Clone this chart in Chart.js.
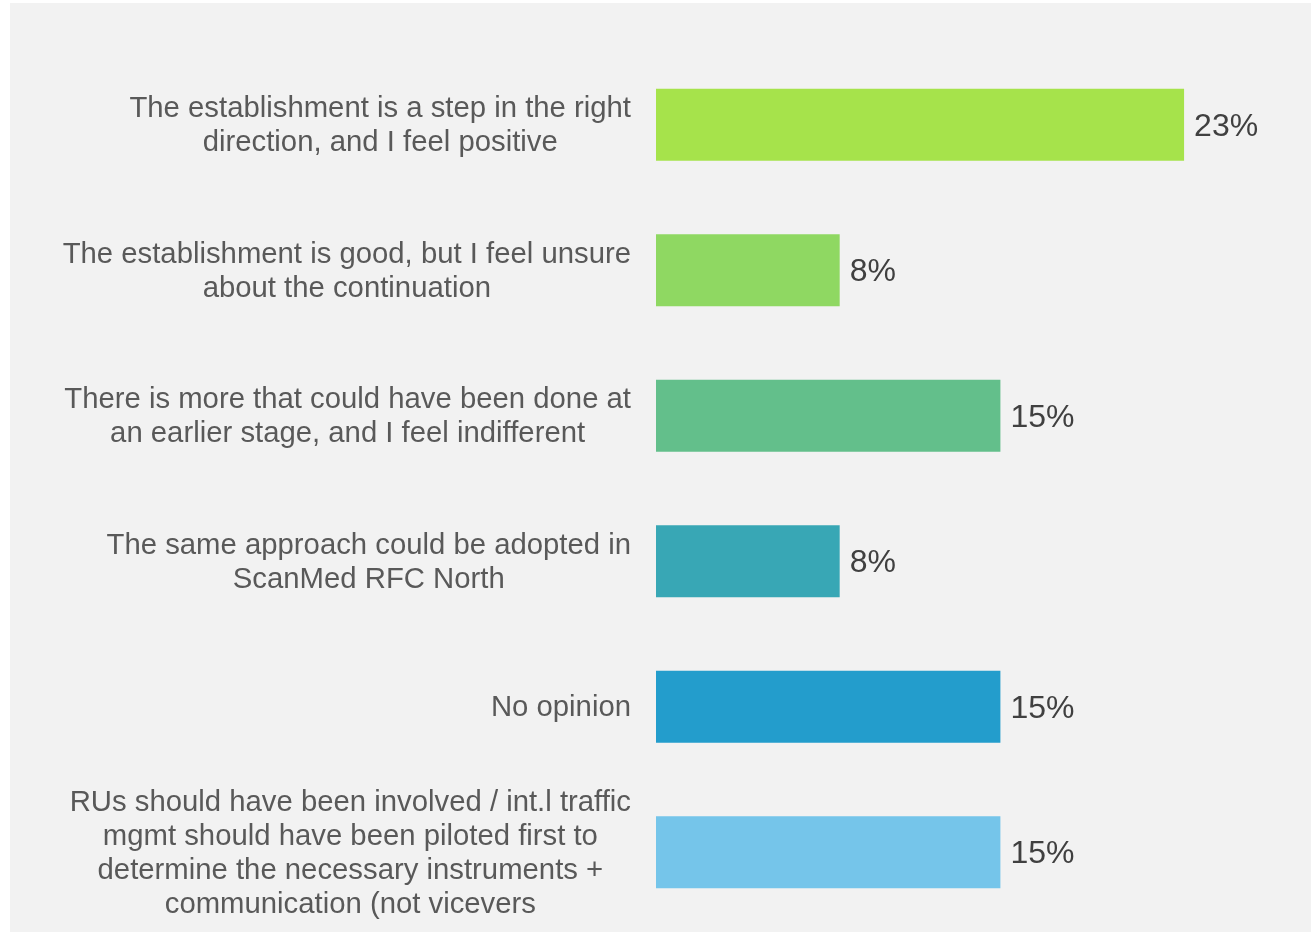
<!DOCTYPE html>
<html>
<head>
<meta charset="utf-8">
<script src="https://cdn.jsdelivr.net/npm/chart.js@4"></script>
<style>
  html, body { margin: 0; padding: 0; background: #ffffff; }
  #panel { position: absolute; left: 10px; top: 3px; width: 1301px; height: 929px; background: #f2f2f2; }
  canvas { display: block; }
</style>
</head>
<body>
<div id="panel"><canvas id="chart" width="1301" height="929"></canvas></div>
<script>
// Survey answers (one entry per line of the wrapped label)
const categories = [
  ["The establishment is a step in the right", "direction, and I feel positive"],
  ["The establishment is good, but I feel unsure", "about the continuation"],
  ["There is more that could have been done at", "an earlier stage, and I feel indifferent"],
  ["The same approach could be adopted in", "ScanMed RFC North"],
  ["No opinion"],
  ["RUs should have been involved / int.l traffic", "mgmt should have been piloted first to", "determine the necessary instruments +", "communication (not vicevers"]
];
// Share of respondents, in percent
const shares = [23, 8, 15, 8, 15, 15];
const barColors = ["#a6e34b", "#8fd862", "#63bf8b", "#38a7b5", "#239dcc", "#75c5ea"];

const FONT = "'Liberation Sans', Arial, sans-serif";

// Category labels: block right-aligned next to the bars, lines centred inside the block
const categoryLabels = {
  id: 'categoryLabels',
  afterDraw(chart) {
    const ctx = chart.ctx;
    const y = chart.scales.y;
    const rightEdge = chart.chartArea.left - 25;
    const lineH = 33.8;
    ctx.save();
    ctx.font = "29.3px " + FONT;
    ctx.fillStyle = "#595959";
    ctx.textBaseline = "middle";
    ctx.textAlign = "center";
    categories.forEach((lines, i) => {
      const cy = y.getPixelForValue(i) + 1.5;
      const w = Math.max(...lines.map(l => ctx.measureText(l).width));
      const cx = rightEdge - w / 2;
      const top = cy - (lines.length - 1) * lineH / 2;
      lines.forEach((l, j) => ctx.fillText(l, cx, top + j * lineH));
    });
    ctx.restore();
  }
};

// Percentage labels after each bar
const valueLabels = {
  id: 'valueLabels',
  afterDatasetsDraw(chart) {
    const ctx = chart.ctx;
    const meta = chart.getDatasetMeta(0);
    ctx.save();
    ctx.font = "32px " + FONT;
    ctx.fillStyle = "#404040";
    ctx.textBaseline = "middle";
    ctx.textAlign = "left";
    meta.data.forEach((bar, i) => {
      ctx.fillText(shares[i] + "%", bar.x + 10, bar.y + 2);
    });
    ctx.restore();
  }
};

new Chart(document.getElementById("chart"), {
  type: "bar",
  data: {
    labels: categories.map(c => c.join(" ")),
    datasets: [{
      data: shares,
      backgroundColor: barColors,
      borderWidth: 0,
      barPercentage: 0.495,
      categoryPercentage: 1
    }]
  },
  options: {
    indexAxis: "y",
    responsive: false,
    animation: false,
    layout: { padding: { top: 49, bottom: 7, right: 81, left: 0 } },
    plugins: { legend: { display: false }, tooltip: { enabled: false } },
    scales: {
      x: { min: 0, max: 25, display: false, grid: { display: false } },
      y: {
        grid: { display: false },
        border: { display: false },
        ticks: { display: false },
        afterFit(scale) { scale.width = 646; }
      }
    }
  },
  plugins: [categoryLabels, valueLabels]
});
</script>
</body>
</html>
